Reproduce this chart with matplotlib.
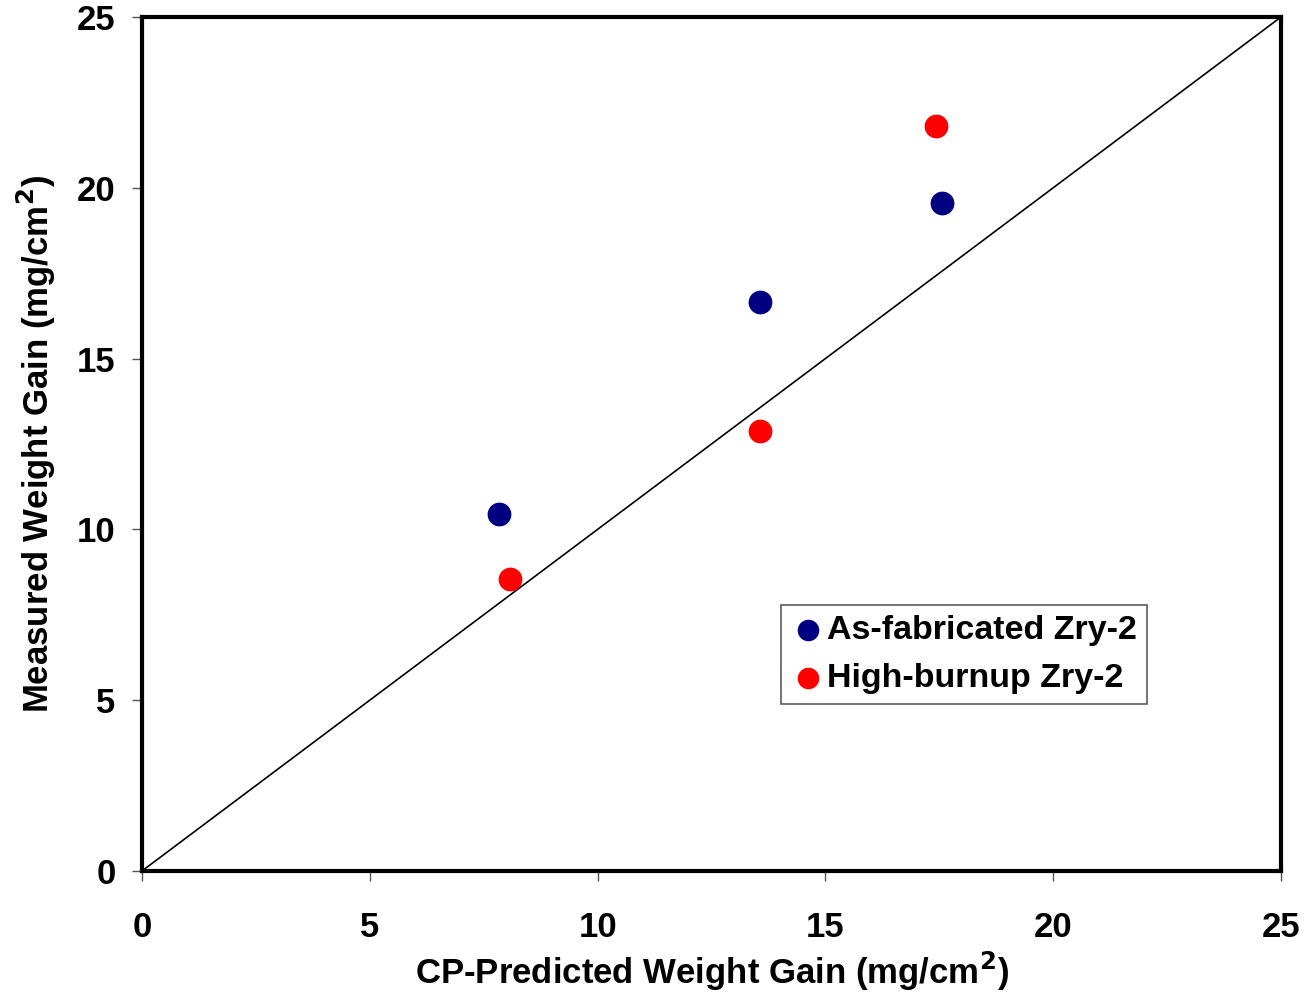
import numpy as np
import matplotlib
matplotlib.use('Agg')
import matplotlib.pyplot as plt

plt.rcParams['font.family'] = 'Liberation Sans'
plt.rcParams['font.weight'] = 'bold'
plt.rcParams['mathtext.default'] = 'bf'

# predicted vs measured weight gain, mg/cm^2
asfab_pred = [7.84, 13.56, 17.56]
asfab_meas = [10.45, 16.66, 19.56]
hbu_pred = [8.08, 13.56, 17.43]
hbu_meas = [8.55, 12.88, 21.81]
ticks = [0, 5, 10, 15, 20, 25]

fig = plt.figure(figsize=(13.04, 9.98), dpi=100)
ax = fig.add_axes([0.1089, 0.1273, 0.8735, 0.8557])

ax.plot([0, 25], [0, 25], color='k', lw=1.2, zorder=1)
ax.scatter(asfab_pred, asfab_meas, s=260, color='#000080', label='As-fabricated Zry-2', zorder=3)
ax.scatter(hbu_pred, hbu_meas, s=260, color='#ff0000', label='High-burnup Zry-2', zorder=3)

ax.set_xlim(0, 25)
ax.set_ylim(0, 25)
ax.set_xticks(ticks)
ax.set_yticks(ticks)
ax.tick_params(direction='out', length=7, width=1, color='#555555', labelsize=25)
ax.tick_params(axis='x', pad=22)
ax.tick_params(axis='y', pad=12)
for lab in ax.get_xticklabels() + ax.get_yticklabels():
    lab.set_fontweight('bold')
for sp in ax.spines.values():
    sp.set_linewidth(3)

ax.set_xlabel('CP-Predicted Weight Gain (mg/cm$^2$)', fontsize=25, fontweight='bold', labelpad=4)
ax.set_ylabel('Measured Weight Gain (mg/cm$^2$)', fontsize=25, fontweight='bold', labelpad=14)

leg = ax.legend(loc='lower left', bbox_to_anchor=(0.5608, 0.1955), fontsize=24.5, frameon=True,
                fancybox=False, edgecolor='#333333', handletextpad=0.05, borderpad=0.3,
                handlelength=1.0, labelspacing=0.5, borderaxespad=0, markerscale=0.9)
leg.get_frame().set_linewidth(1.2)
for t in leg.get_texts():
    t.set_fontweight('bold')

plt.savefig('out.png', dpi=100)
